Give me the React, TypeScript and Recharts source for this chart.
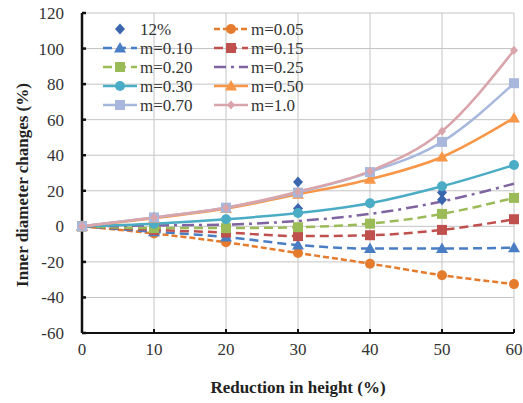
import React from 'react';
import {
  ComposedChart,
  Line,
  Scatter,
  XAxis,
  YAxis,
  CartesianGrid,
  Legend,
} from 'recharts';

// Reduction in height (%) at each measured step
const reductions = [0, 10, 20, 30, 40, 50, 60];

// Inner diameter change (%) for each friction factor m
const m005 = [0, -4, -9, -15, -21, -27.5, -32.5];
const m010 = [0, -3, -6, -10.5, -12.5, -12.5, -12];
const m015 = [0, -2, -3.5, -5.5, -5, -2, 4];
const m020 = [0, -1, -1, -0.5, 1.5, 7, 16];
const m025 = [0, 0.5, 1, 3, 7, 14, 24];
const m030 = [0, 1.5, 4, 7.5, 13, 22.5, 34.5];
const m050 = [0, 4.5, 10, 18, 26.5, 39, 61];
const m070 = [0, 5, 10.5, 19, 30.5, 47.5, 80.5];
const m100 = [0, 5, 10.5, 19.5, 31, 53.5, 99];

// Experimental points, 12% sample
const expReduction = [0, 10, 30, 30, 30, 50, 50];
const expChange = [0, 5, 25, 10, 8, 19, 15];

const yTicks = [-60, -40, -20, 0, 20, 40, 60, 80, 100, 120];
const xTicks = [0, 10, 20, 30, 40, 50, 60];

type Shape = 'circle' | 'triangle' | 'square' | 'diamond' | 'smallDiamond' | 'none';

interface SeriesDef {
  key: string;
  name: string;
  values: number[];
  color: string;
  dash?: string;
  shape: Shape;
}

const SERIES: SeriesDef[] = [
  { key: 'm005', name: 'm=0.05', values: m005, color: '#E57B2C', dash: '6 3', shape: 'circle' },
  { key: 'm010', name: 'm=0.10', values: m010, color: '#4A7EC4', dash: '9 5', shape: 'triangle' },
  { key: 'm015', name: 'm=0.15', values: m015, color: '#C0504D', dash: '9 5', shape: 'square' },
  { key: 'm020', name: 'm=0.20', values: m020, color: '#9BBB59', dash: '9 5', shape: 'square' },
  { key: 'm025', name: 'm=0.25', values: m025, color: '#8064A2', dash: '12 5 3 5', shape: 'none' },
  { key: 'm030', name: 'm=0.30', values: m030, color: '#4BACC6', shape: 'circle' },
  { key: 'm050', name: 'm=0.50', values: m050, color: '#F79646', shape: 'triangle' },
  { key: 'm070', name: 'm=0.70', values: m070, color: '#A7B8DC', shape: 'square' },
  { key: 'm100', name: 'm=1.0', values: m100, color: '#D9A5AA', shape: 'smallDiamond' },
];

const EXP_COLOR = '#3B66AE';

const lineData = reductions.map((x, i) => {
  const row: Record<string, number> = { x };
  SERIES.forEach(s => { row[s.key] = s.values[i]; });
  return row;
});

const expData = expReduction.map((x, i) => ({ x, y: expChange[i] }));

const FONT = '"Liberation Serif", "Times New Roman", serif';

function Marker({ cx, cy, shape, color }: { cx: number; cy: number; shape: Shape; color: string }) {
  if (cx == null || cy == null || shape === 'none') return null;
  switch (shape) {
    case 'circle':
      return <circle cx={cx} cy={cy} r={5} fill={color} />;
    case 'triangle':
      return <polygon points={`${cx},${cy - 6} ${cx + 6},${cy + 4.5} ${cx - 6},${cy + 4.5}`} fill={color} />;
    case 'square':
      return <rect x={cx - 5} y={cy - 5} width={10} height={10} fill={color} />;
    case 'diamond':
      return <polygon points={`${cx},${cy - 5.5} ${cx + 5},${cy} ${cx},${cy + 5.5} ${cx - 5},${cy}`} fill={color} />;
    case 'smallDiamond':
      return <polygon points={`${cx},${cy - 4.5} ${cx + 4},${cy} ${cx},${cy + 4.5} ${cx - 4},${cy}`} fill={color} />;
    default:
      return null;
  }
}

// two-column legend, row-major: 12%, m=0.05, m=0.10 ...
function LegendBox() {
  const entries = [
    { name: '12%', color: EXP_COLOR, shape: 'diamond' as Shape, dash: undefined as string | undefined, line: false },
    ...SERIES.map(s => ({ name: s.name, color: s.color, shape: s.shape, dash: s.dash, line: true })),
  ];
  return (
    <svg width={240} height={100} style={{ overflow: 'visible' }}>
      {entries.map((e, i) => {
        const col = i % 2;
        const row = Math.floor(i / 2);
        const x0 = col === 0 ? 0 : 111;
        const y = 10 + row * 19;
        return (
          <g key={e.name}>
            {e.line && (
              <line
                x1={x0}
                x2={x0 + 34}
                y1={y}
                y2={y}
                stroke={e.color}
                strokeWidth={2.5}
                strokeDasharray={e.dash}
              />
            )}
            <Marker cx={x0 + 17} cy={y} shape={e.shape} color={e.color} />
            <text
              x={x0 + 37}
              y={y}
              dy="0.35em"
              style={{ fontFamily: FONT, fontSize: 17 }}
              fill="#333"
            >
              {e.name}
            </text>
          </g>
        );
      })}
    </svg>
  );
}

function YTitle({ viewBox }: any) {
  const cy = viewBox ? viewBox.y + viewBox.height / 2 + 12 : 185;
  return (
    <text
      x={22}
      y={cy}
      transform={`rotate(-90, 22, ${cy})`}
      textAnchor="middle"
      dominantBaseline="central"
      style={{ fontFamily: FONT, fontWeight: 'bold', fontSize: 17 }}
      fill="#222"
    >
      Inner diameter changes (%)
    </text>
  );
}

const tickStyle = { fill: '#333', fontSize: 17, style: { fontFamily: FONT } };

export default function App() {
  return (
    <div style={{ position: 'absolute', left: 0, top: 0, background: '#fff', fontFamily: FONT }}>
      <ComposedChart
        width={523}
        height={403}
        data={lineData}
        margin={{ top: 13, right: 9, left: 0, bottom: 0 }}
      >
        <CartesianGrid stroke="#c4c4c4" strokeWidth={1} />
        <XAxis
          type="number"
          dataKey="x"
          domain={[0, 60]}
          ticks={xTicks}
          height={70}
          allowDecimals={false}
          stroke="#111"
          strokeWidth={2}
          tickSize={-4}
          tickMargin={14}
          tick={tickStyle}
          label={{
            value: 'Reduction in height (%)',
            position: 'insideBottom',
            offset: 10,
            style: { fontFamily: FONT, fontWeight: 'bold', fontSize: 17, fill: '#222' },
          }}
        />
        <YAxis
          type="number"
          domain={[-60, 120]}
          ticks={yTicks}
          width={82}
          stroke="#111"
          strokeWidth={2.5}
          tickSize={-4}
          tickMargin={22}
          tick={tickStyle}
          label={<YTitle />}
        />
        <Legend
          layout="horizontal"
          verticalAlign="middle"
          wrapperStyle={{ left: 103, top: 19, width: 240, height: 100 }}
          content={() => <LegendBox />}
        />
        {SERIES.map(s => (
          <Line
            key={s.key}
            type="monotone"
            dataKey={s.key}
            name={s.name}
            stroke={s.color}
            strokeWidth={2.5}
            strokeDasharray={s.dash}
            isAnimationActive={false}
            dot={(p: any) => (
              <Marker key={`${s.key}-${p.index}`} cx={p.cx} cy={p.cy} shape={s.shape} color={s.color} />
            )}
            activeDot={false}
          />
        ))}
        <Scatter
          name="12%"
          data={expData}
          dataKey="y"
          fill={EXP_COLOR}
          isAnimationActive={false}
          shape={(p: any) => <Marker cx={p.cx} cy={p.cy} shape="diamond" color={EXP_COLOR} />}
        />
      </ComposedChart>
    </div>
  );
}
